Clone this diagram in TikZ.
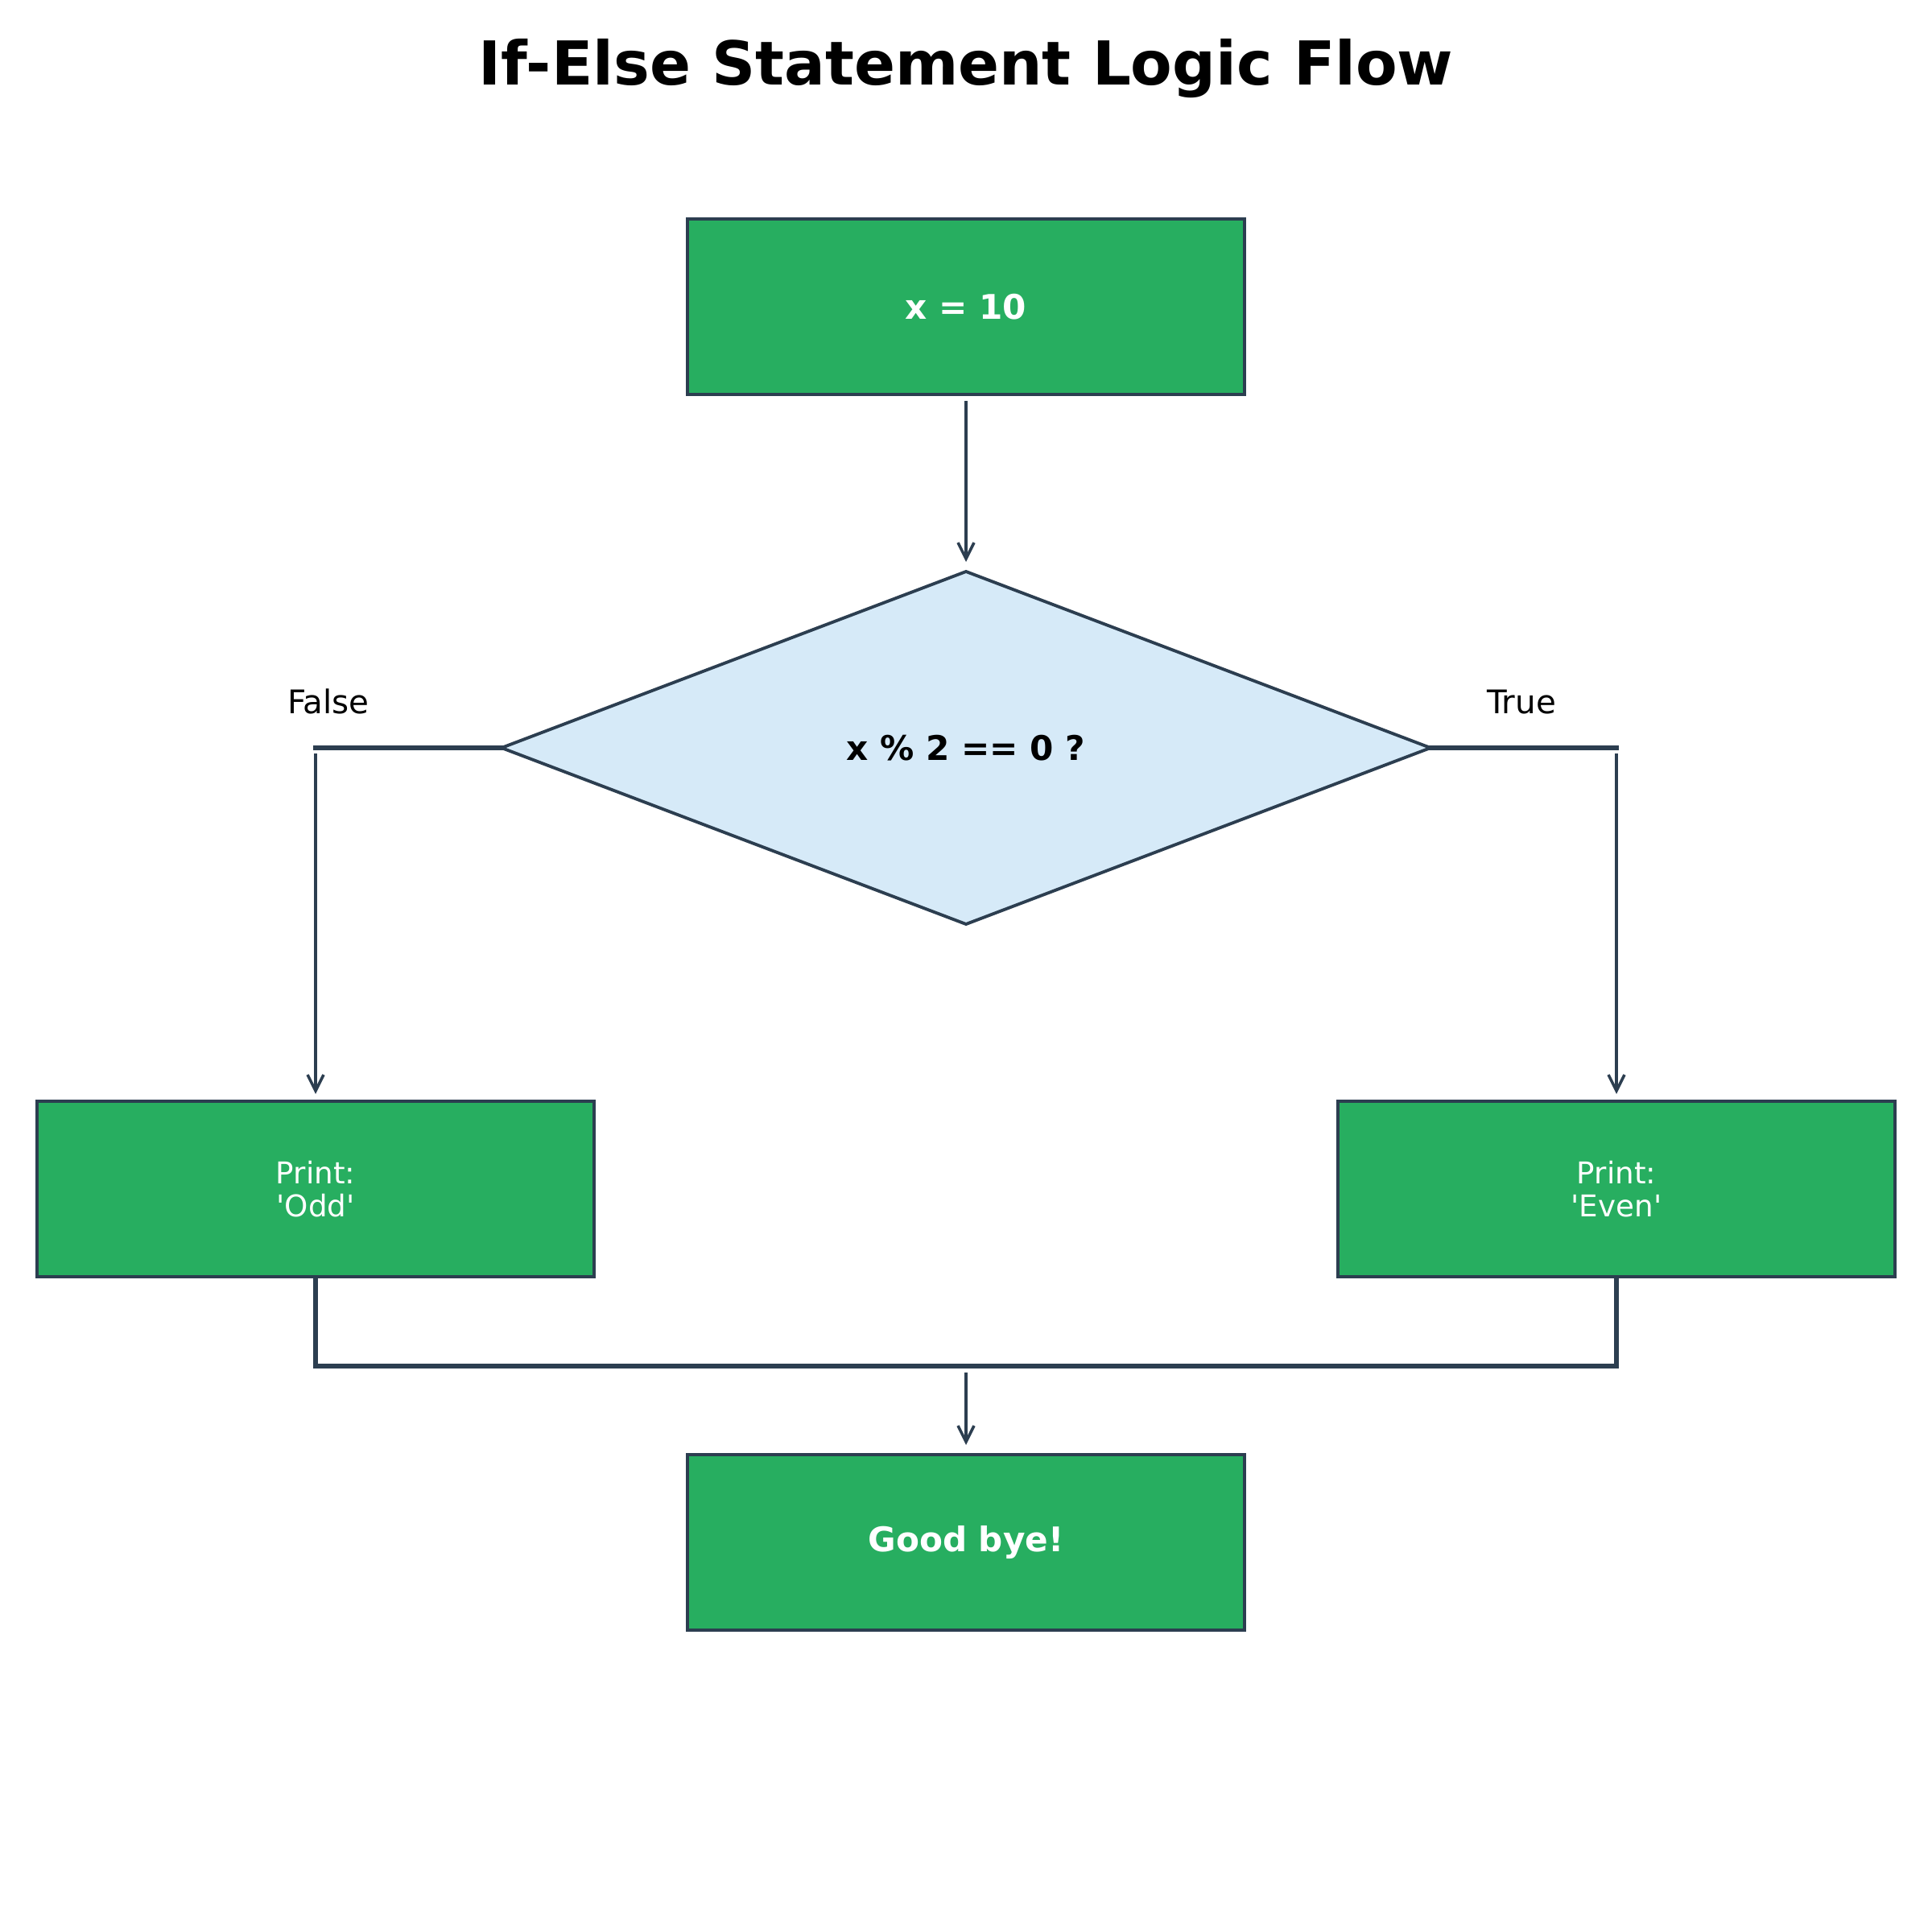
\documentclass[tikz,border=0pt]{standalone}
\usepackage{fontspec}
\setmainfont{DejaVu Sans}
\usepackage{tikz}
\usetikzlibrary{arrows.meta,positioning,shapes.geometric,calc}
\definecolor{boxgreen}{HTML}{27AE60}
\definecolor{edgenavy}{HTML}{2C3E50}
\definecolor{condblue}{HTML}{D6EAF8}

\begin{document}
\begin{tikzpicture}[
  proc/.style={draw=edgenavy, line width=1.2pt, fill=boxgreen, text=white,
    minimum width=6.92cm, minimum height=2.18cm, inner sep=0pt, outer sep=0pt, align=center},
  cond/.style={diamond, draw=edgenavy, line width=1.1pt, fill=condblue,
    minimum width=11.54cm, minimum height=4.38cm, inner sep=0pt, outer sep=0pt},
  arr/.style={draw=edgenavy, line width=1pt, -{Straight Barb[length=2mm,width=2mm]}},
  branch/.style={draw=edgenavy, line width=1.5pt, line cap=rect},
  lab/.style={font=\fontsize{11.5}{13}\selectfont, anchor=base}
]
\path[use as bounding box, fill=white] (0,0) rectangle (24,-24);

\node[font=\bfseries\fontsize{21.4}{25}\selectfont, anchor=base] (title) at (12,-1.06) {If-Else Statement Logic Flow};

% main flow
\node[proc, font=\bfseries\fontsize{12}{14}\selectfont] (start) at (12,-3.81) {x = 10};
\node[cond, font=\bfseries\fontsize{12}{14}\selectfont] (test) at (12,-9.29) {x \% 2 == 0 ?};
\node[proc, font=\fontsize{10.6}{11.8}\selectfont] (odd) at (3.92,-14.77) {Print:\\\textquotesingle Odd\textquotesingle};
\node[proc, font=\fontsize{10.6}{11.8}\selectfont] (even) at (20.08,-14.77) {Print:\\\textquotesingle Even\textquotesingle};
\node[proc, font=\bfseries\fontsize{12}{14}\selectfont] (bye) at (12,-19.16) {Good bye!};

\coordinate (fL) at (3.92,-9.29);
\coordinate (fR) at (20.08,-9.29);
\coordinate (mg) at (12,-16.97);

\node[lab] (flab) at (4.08,-8.86) {False};
\node[lab] (tlab) at (18.90,-8.86) {True};

\draw[arr, shorten <=0.08cm, shorten >=0.12cm] (start) -- (test);

% branches
\draw[branch] (test.west) -- (fL);
\draw[branch] (test.east) -- (fR);
\draw[arr, shorten <=0.07cm, shorten >=0.09cm] (fL) -- (odd);
\draw[arr, shorten <=0.07cm, shorten >=0.09cm] (fR) -- (even);

% merge
\draw[branch, line cap=butt] (odd.south) -- (odd.south |- mg) -| (even.south);
\draw[arr, shorten <=0.08cm, shorten >=0.12cm] (mg) -- (bye);
\end{tikzpicture}
\end{document}
